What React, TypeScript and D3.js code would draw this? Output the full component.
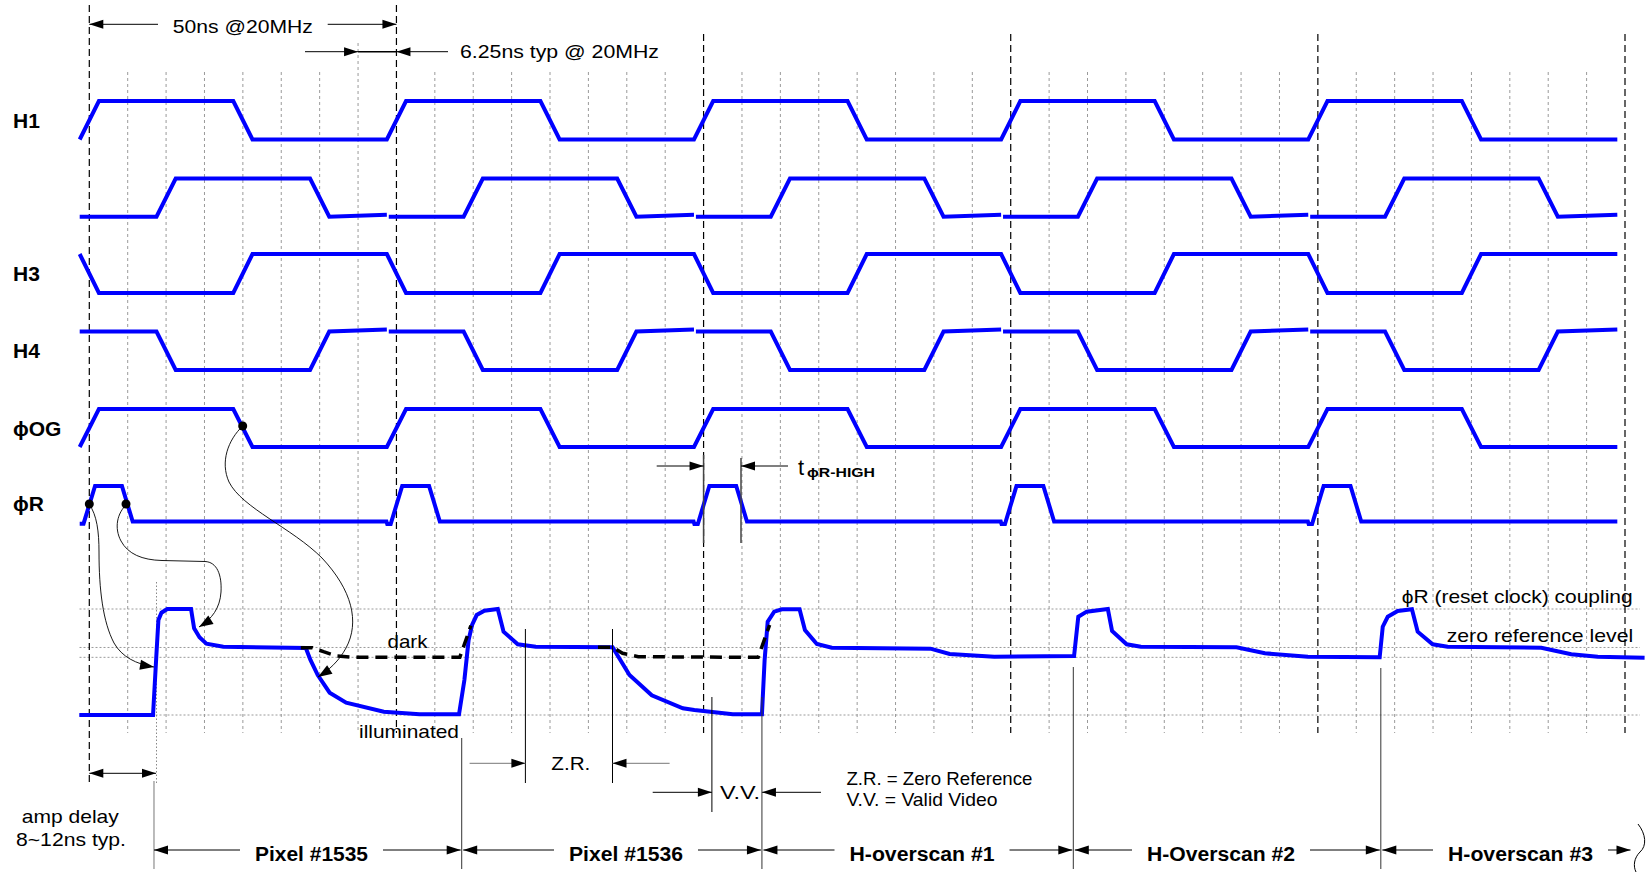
import React from 'react';
import * as d3 from 'd3';

const W = 1648;
const H = 872;
const FONT = '"Liberation Sans", Arial, Helvetica, sans-serif';
const BLUE = '#0000ff';

// time axis in 6.25ns steps, 8 steps = one 50ns pixel period
const periodTicks = [0, 8, 16, 24, 32, 40];
const gridTicks = d3.range(1, 40).filter(t => t % 8 !== 0);

// clock rows: [t, level] points, null = pen lift
const rowLabels = ['H1', '', 'H3', 'H4', 'ϕOG', 'ϕR'];

const h1 = [[-0.25, 0], [0.25, 1], [3.75, 1], [4.25, 0], [7.75, 0], [8.25, 1], [11.75, 1], [12.25, 0], [15.75, 0], [16.25, 1], [19.75, 1], [20.25, 0], [23.75, 0], [24.25, 1], [27.75, 1], [28.25, 0], [31.75, 0], [32.25, 1], [35.75, 1], [36.25, 0], [39.8, 0]];
const h2 = [[-0.25, 0], [1.75, 0], [2.25, 1], [5.75, 1], [6.25, 0], [7.75, 0.05], null, [7.8, 0], [9.75, 0], [10.25, 1], [13.75, 1], [14.25, 0], [15.75, 0.05], null, [15.8, 0], [17.75, 0], [18.25, 1], [21.75, 1], [22.25, 0], [23.75, 0.05], null, [23.8, 0], [25.75, 0], [26.25, 1], [29.75, 1], [30.25, 0], [31.75, 0.05], null, [31.8, 0], [33.75, 0], [34.25, 1], [37.75, 1], [38.25, 0], [39.8, 0.05]];
const h3 = [[-0.25, 1], [0.25, 0], [3.75, 0], [4.25, 1], [7.75, 1], [8.25, 0], [11.75, 0], [12.25, 1], [15.75, 1], [16.25, 0], [19.75, 0], [20.25, 1], [23.75, 1], [24.25, 0], [27.75, 0], [28.25, 1], [31.75, 1], [32.25, 0], [35.75, 0], [36.25, 1], [39.8, 1]];
const h4 = [[-0.25, 1], [1.75, 1], [2.25, 0], [5.75, 0], [6.25, 1], [7.75, 1.05], null, [7.8, 1], [9.75, 1], [10.25, 0], [13.75, 0], [14.25, 1], [15.75, 1.05], null, [15.8, 1], [17.75, 1], [18.25, 0], [21.75, 0], [22.25, 1], [23.75, 1.05], null, [23.8, 1], [25.75, 1], [26.25, 0], [29.75, 0], [30.25, 1], [31.75, 1.05], null, [31.8, 1], [33.75, 1], [34.25, 0], [37.75, 0], [38.25, 1], [39.8, 1.05]];
const og = [[-0.25, 0], [0.25, 1], [3.75, 1], [4.25, 0], [7.75, 0], [8.25, 1], [11.75, 1], [12.25, 0], [15.75, 0], [16.25, 1], [19.75, 1], [20.25, 0], [23.75, 0], [24.25, 1], [27.75, 1], [28.25, 0], [31.75, 0], [32.25, 1], [35.75, 1], [36.25, 0], [39.8, 0]];
const rst = [[-0.25, -0.06], [-0.15, -0.06], [0.15, 1], [0.85, 1], [1.13, 0], [7.74, 0], [7.76, -0.07], [7.85, -0.07], [8.15, 1], [8.85, 1], [9.13, 0], [15.74, 0], [15.76, -0.07], [15.85, -0.07], [16.15, 1], [16.85, 1], [17.13, 0], [23.74, 0], [23.76, -0.07], [23.85, -0.07], [24.15, 1], [24.85, 1], [25.13, 0], [31.74, 0], [31.76, -0.07], [31.85, -0.07], [32.15, 1], [32.85, 1], [33.13, 0], [39.8, 0]];
const rowSeries = [h1, h2, h3, h4, og, rst];

// row layout: pixel y of low / high level
const rowLow = [139.5, 216.7, 293, 370, 447, 521.5];
const rowHigh = [101, 178.5, 254, 331.5, 409, 486];

// CCD output, 0 = illuminated bottom, 100 = reset feedthrough top
const videoLevels = [100, 63.7, 54.4, 0];
const video = [[-0.26, 0], [1.66, 0], [1.745, 55], [1.8, 89.6], [1.88, 96.5], [2.03, 100], [2.65, 100], [2.73, 81.8], [2.87, 73.3], [3.05, 67.3], [3.49, 64.4], [5.64, 63.2], [5.76, 51.9], [5.95, 37.7], [6.26, 21], [6.69, 11.6], [7.67, 3.1], [8.6, 0.7], [9.63, 0.7], [9.77, 33], [9.88, 70.8], [9.97, 84.9], [10.09, 94.3], [10.29, 98.4], [10.64, 100], [10.79, 78.6], [11.16, 66.7], [11.63, 64.4], [13.63, 63.9], [14.07, 37.7], [14.65, 18.6], [15.46, 6.3], [15.76, 4.7], [16.76, 0.7], [17.52, 0.7], [17.59, 51.9], [17.67, 88], [17.84, 97.5], [18.04, 99.7], [18.5, 99.7], [18.64, 80.2], [18.95, 67], [19.34, 63.5], [21.91, 62.6], [22.41, 57.5], [23.57, 55], [25.65, 55.7], [25.76, 92.7], [25.98, 97.5], [26.53, 100], [26.64, 79.2], [27.02, 66.7], [27.39, 64.4], [29.88, 63.9], [30.62, 58.2], [31.74, 55], [33.61, 54.4], [33.69, 83.3], [33.82, 92.7], [34.08, 98.1], [34.45, 99.7], [34.6, 78.6], [34.99, 66.7], [35.38, 64.4], [37.82, 63.5], [38.6, 57.3], [39.29, 55], [40.51, 54.1]];
const dark1 = [[5.51, 63.5], [5.81, 63.5], [6.1, 59.7], [6.45, 55.6], [6.86, 54.4], [9.65, 54.4], [9.94, 84.3]];
const dark2 = [[13.25, 63.9], [13.63, 63.9], [13.89, 58.2], [14.3, 55], [17.42, 54.4], [17.72, 84.9]];

// bottom brackets
const spanLabels = ['Pixel #1535', 'Pixel #1536', 'H-overscan #1', 'H-Overscan #2', 'H-overscan #3'];
const spanStart = [1.685, 9.7, 17.52, 25.63, 33.64];
const spanEnd = [9.7, 17.52, 25.63, 33.64, 40.17];
const spanTextX = [311.5, 626, 922, 1221, 1520.5];
const spanTextW = [113, 114, 145, 148, 145];
const spanLineTop = [781, 738, 697, 667, 668];

const head = (x: number, y: number, ang: number, len = 14, hw = 4.5) => {
  const c = Math.cos(ang), s = Math.sin(ang);
  const bx = x - c * len, by = y - s * len;
  return `${x},${y} ${bx - s * hw},${by + c * hw} ${bx + s * hw},${by - c * hw}`;
};

const Arrow = ({ x1, x2, y, stroke = '#000' }: any) => (
  <g>
    <line x1={x1} x2={x2} y1={y} y2={y} stroke={stroke} strokeWidth={1} />
    <polygon points={head(x2, y, x2 > x1 ? 0 : Math.PI)} fill="#000" />
  </g>
);

const Txt = ({ x, y, w, size = 19, bold = false, anchor = 'start', children }: any) => (
  <text x={x} y={y} fontSize={size} fontWeight={bold ? 'bold' : 'normal'} textAnchor={anchor}
    textLength={w} lengthAdjust="spacingAndGlyphs" fill="#000">{children}</text>
);

const CurveArrow = ({ d, tip, from }: any) => (
  <g>
    <path d={d} fill="none" stroke="#000" strokeWidth={0.9} />
    <polygon points={head(tip[0], tip[1], Math.atan2(tip[1] - from[1], tip[0] - from[0]), 14, 5)} fill="#000" />
  </g>
);

export default function App() {
  const x = d3.scaleLinear().domain([0, 40]).range([89.3, 1625]);
  const yV = d3.scaleLinear().domain([0, 100]).range([715, 609]);

  const vLine = d3.line<any>().defined(d => d !== null).x(d => x(d[0])).y(d => yV(d[1]));

  return (
    <svg width={W} height={H} style={{ position: 'absolute', left: 0, top: 0 }} fontFamily={FONT}>
      <rect width={W} height={H} fill="#fff" />

      {/* 6.25ns grid */}
      {gridTicks.map(t => (
        <line key={t} x1={x(t)} x2={x(t)} y1={t === 7 ? 43 : 72} y2={733}
          stroke="#9a9a9a" strokeWidth={1} strokeDasharray="3,3" />
      ))}
      {videoLevels.map(v => (
        <line key={v} x1={79.5} x2={1640} y1={yV(v)} y2={yV(v)}
          stroke="#9a9a9a" strokeWidth={1} strokeDasharray="2,2" />
      ))}
      <line x1={156.5} x2={156.5} y1={582} y2={783} stroke="#888" strokeWidth={1} strokeDasharray="1.5,2" />

      {/* 50ns period markers */}
      {periodTicks.map((t, i) => (
        <line key={t} x1={x(t)} x2={x(t)} y1={i < 2 ? 5 : 34} y2={i === 0 ? 783 : 733}
          stroke="#000" strokeWidth={1.2} strokeDasharray="7,4" />
      ))}

      {/* clocks */}
      {rowSeries.map((pts, i) => {
        const y = d3.scaleLinear().domain([0, 1]).range([rowLow[i], rowHigh[i]]);
        const line = d3.line<any>().defined(d => d !== null).x(d => x(d[0])).y(d => y(d[1]));
        return (
          <g key={i}>
            <path d={line(pts as any) || ''} fill="none" stroke={BLUE} strokeWidth={4} />
            {rowLabels[i] && (
              <text x={13} y={(rowLow[i] + rowHigh[i]) / 2 + 7.5} fontSize={21} fontWeight="bold">{rowLabels[i]}</text>
            )}
          </g>
        );
      })}

      {/* video */}
      <path d={vLine(video as any) || ''} fill="none" stroke={BLUE} strokeWidth={4} />
      <path d={vLine(dark1 as any) || ''} fill="none" stroke="#000" strokeWidth={3.5} strokeDasharray="12,7" />
      <path d={vLine(dark2 as any) || ''} fill="none" stroke="#000" strokeWidth={3.5} strokeDasharray="12,7" />

      {/* top timing annotations */}
      <Arrow x1={158} x2={x(0)} y={24.3} />
      <Arrow x1={327.7} x2={x(8)} y={24.3} />
      <Txt x={242.8} y={33} w={140} anchor="middle">50ns @20MHz</Txt>
      <Arrow x1={305} x2={x(7)} y={51.7} />
      <line x1={x(7)} x2={x(8)} y1={51.7} y2={51.7} stroke="#000" strokeWidth={1.5} />
      <Arrow x1={448} x2={x(8)} y={51.7} />
      <Txt x={460} y={58} w={199}>6.25ns typ @ 20MHz</Txt>

      {/* reset high time */}
      <line x1={x(16)} x2={x(16)} y1={455} y2={543} stroke="#444" strokeWidth={1.5} />
      <line x1={741} x2={741} y1={458} y2={543} stroke="#444" strokeWidth={1.5} />
      <Arrow x1={656.7} x2={x(16)} y={466} />
      <Arrow x1={788} x2={741} y={466} />
      <text x={798} y={475} fontSize={22}>t</text>
      <Txt x={807} y={477} w={68} size={13.5} bold>ϕR-HIGH</Txt>

      {/* coupling curves */}
      <CurveArrow d="M89,504 C97,515 99,532 99,552 C99,590 103,622 114,643 C122,657 136,664 154,667" tip={[154, 667]} from={[136, 664]} />
      <CurveArrow d="M127,504 C117,513 114,528 121,541 C128,554 142,560 162,560.5 L205,561.5 C217,562 222,575 221,592 C220,608 212,619 199,627" tip={[199, 627]} from={[212, 619]} />
      <CurveArrow d="M242.7,426 C228,440 220,462 229,482 C242,508 292,528 322,558 C352,590 360,622 346,648 C339,661 329,670 318,677" tip={[318, 677]} from={[329, 670]} />
      <circle cx={x(0)} cy={504} r={4.5} fill="#000" />
      <circle cx={126} cy={504} r={4.5} fill="#000" />
      <circle cx={242.7} cy={426} r={4.5} fill="#000" />

      {/* video labels */}
      <Txt x={387.5} y={648} w={40}>dark</Txt>
      <Txt x={359} y={738} w={100}>illuminated</Txt>
      <Txt x={1401.7} y={603.3} w={231}>ϕR (reset clock) coupling</Txt>
      <Txt x={1446.7} y={642.3} w={186.6}>zero reference level</Txt>

      {/* Z.R. / V.V. */}
      <line x1={525.4} x2={525.4} y1={629} y2={783} stroke="#000" strokeWidth={1} />
      <line x1={612.5} x2={612.5} y1={629} y2={783} stroke="#000" strokeWidth={1} />
      <Arrow x1={469.6} x2={525.4} y={763.3} stroke="#777" />
      <Arrow x1={669.6} x2={612.5} y={763.3} stroke="#777" />
      <Txt x={551.3} y={770} w={39}>Z.R.</Txt>
      <line x1={711.9} x2={711.9} y1={697} y2={812} stroke="#000" strokeWidth={1} />
      <Arrow x1={652.7} x2={711.9} y={792.3} />
      <Arrow x1={821} x2={x(spanStart[2])} y={792.3} />
      <Txt x={720} y={799} w={40}>V.V.</Txt>
      <Txt x={846.4} y={785} w={186}>Z.R. = Zero Reference</Txt>
      <Txt x={846.4} y={806} w={151}>V.V. = Valid Video</Txt>

      {/* amp delay */}
      <Arrow x1={120} x2={x(0)} y={773.3} />
      <Arrow x1={120} x2={156} y={773.3} />
      <Txt x={70.3} y={823.3} w={97} anchor="middle">amp delay</Txt>
      <Txt x={71} y={846} w={110} anchor="middle">8~12ns typ.</Txt>

      {/* pixel / overscan brackets */}
      {spanLabels.map((lab, i) => {
        const a = x(spanStart[i]) + (i === 0 ? 0 : 1.5);
        const b = x(spanEnd[i]) - 1;
        const tl = spanTextX[i] - spanTextW[i] / 2;
        const tr = spanTextX[i] + spanTextW[i] / 2;
        return (
          <g key={lab}>
            <line x1={x(spanStart[i])} x2={x(spanStart[i])} y1={spanLineTop[i]} y2={869}
              stroke={i === 0 ? '#777' : '#333'} strokeWidth={1} />
            <Arrow x1={tl - 15} x2={a} y={850} />
            <Arrow x1={tr + 15} x2={b} y={850} />
            <Txt x={spanTextX[i]} y={860.5} w={spanTextW[i]} size={19.5} bold anchor="middle">{lab}</Txt>
          </g>
        );
      })}
      <path d="M1638,824 C1646,834 1647,846 1640,852 C1634,858 1633,866 1636,872" fill="none" stroke="#000" strokeWidth={1} />
    </svg>
  );
}
